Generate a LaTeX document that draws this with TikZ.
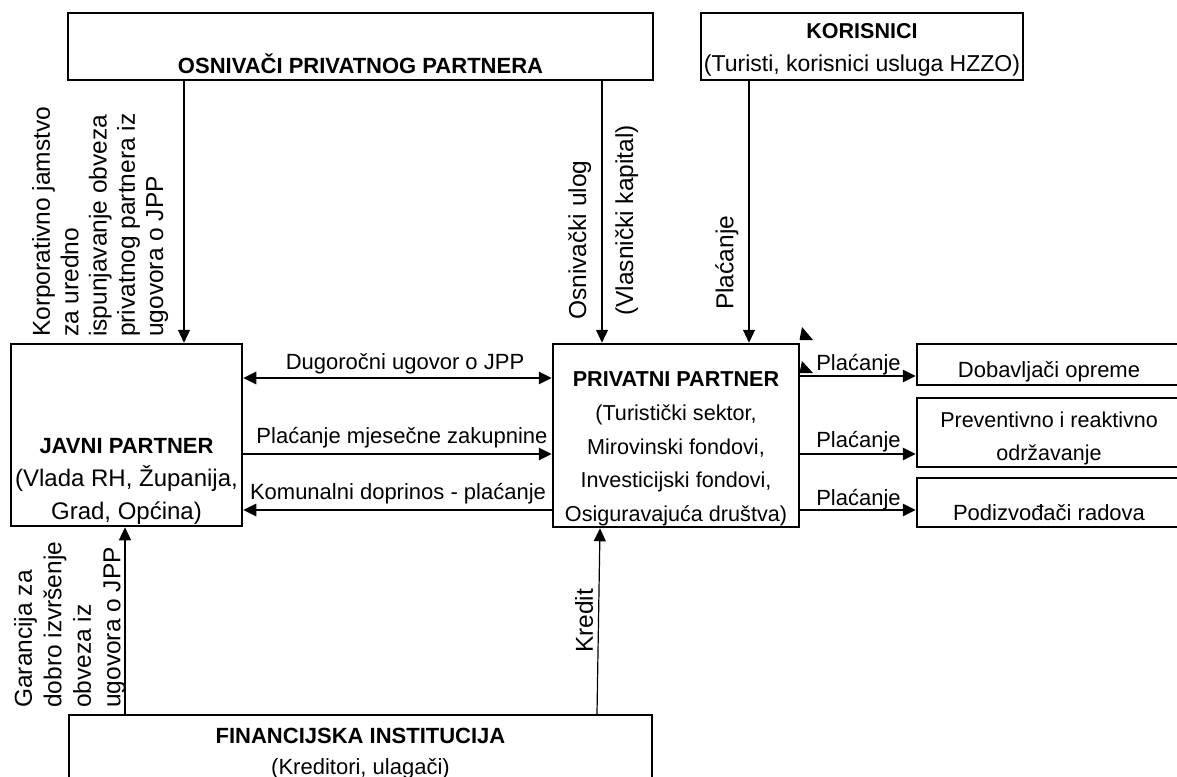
\documentclass[tikz,border=0pt]{standalone}
\usepackage{fontspec}
\setmainfont{Liberation Sans}
\usetikzlibrary{arrows.meta}
\begin{document}
\begin{tikzpicture}[x=1pt,y=-1pt,
  box/.style={draw, line width=2.5pt, inner sep=0pt},
  txt/.style={inner sep=0pt, align=center, anchor=base, font=\fontsize{22}{33.5}\selectfont},
  vtxt/.style={inner sep=0pt, align=left, rotate=90, anchor=north west},
  tarrow/.style={line width=1.2pt, -{Triangle[length=13pt,width=12pt]}},
  harrow/.style={line width=2.6pt, -{Triangle[length=13pt,width=12pt]}},
  darrow/.style={line width=2.6pt, {Triangle[length=13pt,width=12pt]}-{Triangle[length=13pt,width=12pt]}},
]
\fill[white] (0,0) rectangle (1177,776);
\useasboundingbox (0,0) rectangle (1177,776);

% boxes
\node[box, minimum width=585pt, minimum height=67pt] (osn) at (360.5,46.5) {};
\node[box, minimum width=322pt, minimum height=67pt] (kor) at (862,46.5) {};
\node[box, minimum width=231pt, minimum height=182pt] (jav) at (126.5,435) {};
\node[box, minimum width=246pt, minimum height=183pt] (pri) at (676,435.5) {};
\node[box, minimum width=264pt, minimum height=41pt] (dob) at (1049,364.5) {};
\node[box, minimum width=264pt, minimum height=69pt] (prev) at (1049,432.5) {};
\node[box, minimum width=264pt, minimum height=49pt] (pod) at (1049,502.5) {};
\node[box, minimum width=583pt, minimum height=100pt] (fin) at (360.5,765) {};

% box texts (multi-line nodes: base = baseline of the last line)
\node[txt, font=\fontsize{22}{33.5}\selectfont\bfseries] (osnt) at (360.5,74) {OSNIVAČI PRIVATNOG PARTNERA};
\node[txt, font=\fontsize{23}{33}\selectfont] (kort) at (862,71) {{\fontsize{21.5}{33}\selectfont\bfseries KORISNICI}\\(Turisti, korisnici usluga HZZO)};
\node[txt, font=\fontsize{24}{33}\selectfont] (javt) at (126.5,519) {{\fontsize{22}{33}\selectfont\bfseries JAVNI PARTNER}\\(Vlada RH, Županija,\\Grad, Općina)};
\node[txt, font=\fontsize{21.6}{33.7}\selectfont] (prit) at (676,521.5) {{\bfseries PRIVATNI PARTNER}\\(Turistički sektor,\\Mirovinski fondovi,\\Investicijski fondovi,\\Osiguravajuća društva)};
\node[txt] (dobt) at (1049,377) {Dobavljači opreme};
\node[txt, font=\fontsize{21.5}{33}\selectfont] (prevt) at (1049,460) {Preventivno i reaktivno\\održavanje};
\node[txt] (podt) at (1049,520) {Podizvođači radova};
\node[txt, font=\fontsize{22}{31}\selectfont] (fint) at (360.5,774) {{\bfseries FINANCIJSKA INSTITUCIJA}\\(Kreditori, ulagači)};

% vertical connectors
\draw[tarrow] (osn.south -| 184,0) -- (jav.north -| 184,0);
\draw[tarrow] (osn.south -| 602,0) -- (pri.north -| 602,0);
\draw[tarrow] (kor.south -| 749,0) -- (pri.north -| 749,0);
\draw[tarrow] (fin.north -| 125,0) -- (jav.south -| 125,0);
\draw[tarrow] (fin.north -| 597,0) -- (pri.south -| 600,0);

% horizontal connectors
\draw[darrow] (jav.east |- 0,378) -- (pri.west |- 0,378);
\draw[harrow] (jav.east |- 0,454) -- (pri.west |- 0,454);
\draw[harrow] (pri.west |- 0,510) -- (jav.east |- 0,510);
\draw[harrow] (pri.east |- 0,376) -- (dob.west |- 0,376);
\draw[harrow] (pri.east |- 0,454) -- (prev.west |- 0,454);
\draw[harrow] (pri.east |- 0,510) -- (pod.west |- 0,510);

% stray arrowheads at the corner of the private partner box
\fill (799.5,340) -- (813,340) -- (802,327) -- cycle;
\fill (799.5,373) -- (813,373) -- (802,361) -- cycle;

% connector labels
\node[txt] (l1) at (405,369) {Dugoročni ugovor o JPP};
\node[txt] (l2) at (402,443) {Plaćanje mjesečne zakupnine};
\node[txt] (l3) at (398,499) {Komunalni doprinos - plaćanje};
\node[txt] (l4) at (858.5,370) {Plaćanje};
\node[txt] (l5) at (858.5,447) {Plaćanje};
\node[txt] (l6) at (858.5,505) {Plaćanje};

\node[vtxt, font=\fontsize{24.5}{28.3}\selectfont] (corp) at (32,337) {Korporativno jamstvo\\za uredno\\ispunjavanje obveza\\privatnog partnera iz\\ugovora o JPP};
\node[vtxt, font=\fontsize{24.5}{29.5}\selectfont] (gar) at (14,708) {Garancija za\\dobro izvršenje\\obveza iz\\ugovora o JPP};
\node[vtxt, font=\fontsize{24.5}{30}\selectfont] (osu) at (568,320) {Osnivački ulog};
\node[vtxt, font=\fontsize{24.5}{30}\selectfont] (vlk) at (615,316) {(Vlasnički kapital)};
\node[vtxt, font=\fontsize{24.5}{30}\selectfont] (plk) at (715,310) {Plaćanje};
\node[vtxt, font=\fontsize{24.5}{30}\selectfont] (kre) at (575,653) {Kredit};
\end{tikzpicture}
\end{document}
